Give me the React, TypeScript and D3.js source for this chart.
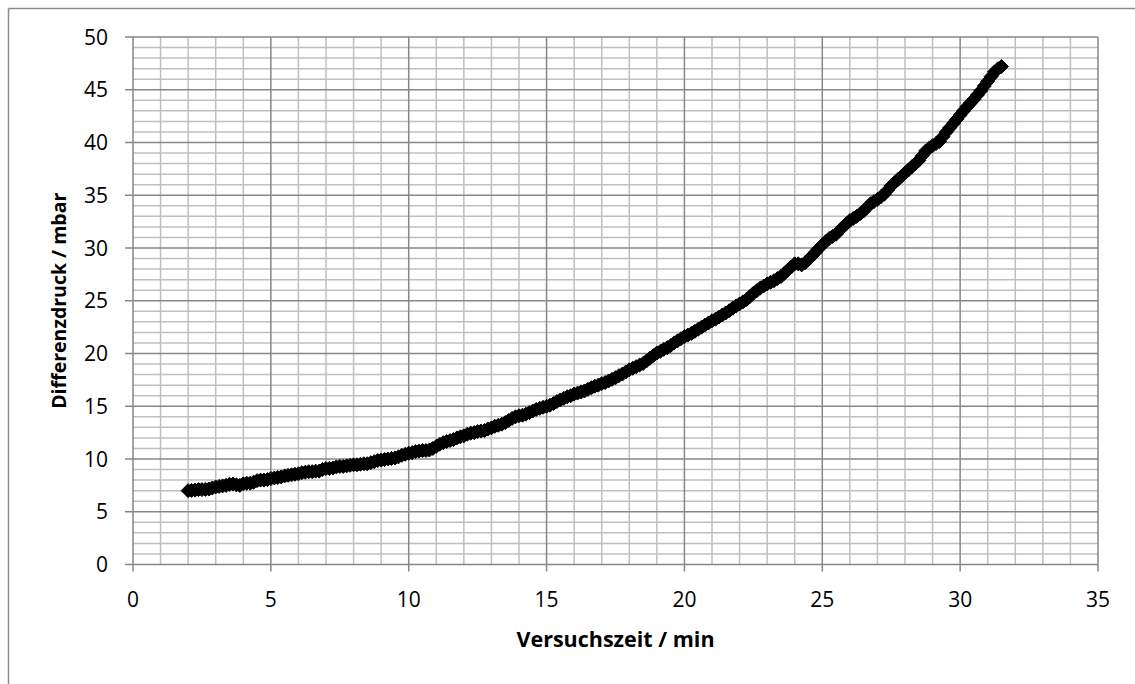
import React from "react";
import * as d3 from "d3";

const timeMin: number[] = [
  2.0, 2.125, 2.25, 2.375, 2.5, 2.625, 2.75, 2.875,
  3.0, 3.125, 3.25, 3.375, 3.5, 3.625, 3.75, 3.875,
  4.0, 4.125, 4.25, 4.375, 4.5, 4.625, 4.75, 4.875,
  5.0, 5.125, 5.25, 5.375, 5.5, 5.625, 5.75, 5.875,
  6.0, 6.125, 6.25, 6.375, 6.5, 6.625, 6.75, 6.875,
  7.0, 7.125, 7.25, 7.375, 7.5, 7.625, 7.75, 7.875,
  8.0, 8.125, 8.25, 8.375, 8.5, 8.625, 8.75, 8.875,
  9.0, 9.125, 9.25, 9.375, 9.5, 9.625, 9.75, 9.875,
  10.0, 10.125, 10.25, 10.375, 10.5, 10.625, 10.75, 10.875,
  11.0, 11.125, 11.25, 11.375, 11.5, 11.625, 11.75, 11.875,
  12.0, 12.125, 12.25, 12.375, 12.5, 12.625, 12.75, 12.875,
  13.0, 13.125, 13.25, 13.375, 13.5, 13.625, 13.75, 13.875,
  14.0, 14.125, 14.25, 14.375, 14.5, 14.625, 14.75, 14.875,
  15.0, 15.125, 15.25, 15.375, 15.5, 15.625, 15.75, 15.875,
  16.0, 16.125, 16.25, 16.375, 16.5, 16.625, 16.75, 16.875,
  17.0, 17.125, 17.25, 17.375, 17.5, 17.625, 17.75, 17.875,
  18.0, 18.125, 18.25, 18.375, 18.5, 18.625, 18.75, 18.875,
  19.0, 19.125, 19.25, 19.375, 19.5, 19.625, 19.75, 19.875,
  20.0, 20.125, 20.25, 20.375, 20.5, 20.625, 20.75, 20.875,
  21.0, 21.125, 21.25, 21.375, 21.5, 21.625, 21.75, 21.875,
  22.0, 22.125, 22.25, 22.375, 22.5, 22.625, 22.75, 22.875,
  23.0, 23.125, 23.25, 23.375, 23.5, 23.625, 23.75, 23.875,
  24.0, 24.125, 24.25, 24.375, 24.5, 24.625, 24.75, 24.875,
  25.0, 25.125, 25.25, 25.375, 25.5, 25.625, 25.75, 25.875,
  26.0, 26.125, 26.25, 26.375, 26.5, 26.625, 26.75, 26.875,
  27.0, 27.125, 27.25, 27.375, 27.5, 27.625, 27.75, 27.875,
  28.0, 28.125, 28.25, 28.375, 28.5, 28.625, 28.75, 28.875,
  29.0, 29.125, 29.25, 29.375, 29.5, 29.625, 29.75, 29.875,
  30.0, 30.125, 30.25, 30.375, 30.5, 30.625, 30.75, 30.875,
  31.0, 31.125, 31.25, 31.375, 31.5,
];

const pressureMbar: number[] = [
  7.0, 7.02, 7.05, 7.1, 7.1, 7.12, 7.15, 7.25,
  7.35, 7.4, 7.45, 7.5, 7.6, 7.62, 7.55, 7.5,
  7.65, 7.7, 7.7, 7.8, 7.95, 8.0, 8.0, 8.05,
  8.15, 8.2, 8.25, 8.3, 8.4, 8.45, 8.5, 8.55,
  8.6, 8.7, 8.75, 8.8, 8.8, 8.85, 8.85, 9.0,
  9.1, 9.1, 9.15, 9.25, 9.3, 9.3, 9.35, 9.4,
  9.45, 9.45, 9.5, 9.55, 9.55, 9.65, 9.75, 9.85,
  9.9, 9.95, 10.0, 10.05, 10.1, 10.2, 10.35, 10.45,
  10.55, 10.6, 10.7, 10.75, 10.8, 10.8, 10.85, 11.0,
  11.2, 11.4, 11.55, 11.65, 11.75, 11.85, 12.0, 12.1,
  12.2, 12.35, 12.45, 12.5, 12.6, 12.65, 12.7, 12.85,
  12.95, 13.1, 13.2, 13.3, 13.45, 13.65, 13.85, 14.0,
  14.1, 14.15, 14.25, 14.4, 14.55, 14.7, 14.8, 14.9,
  15.0, 15.1, 15.25, 15.45, 15.6, 15.75, 15.9, 16.0,
  16.15, 16.25, 16.35, 16.45, 16.6, 16.75, 16.9, 17.0,
  17.15, 17.25, 17.4, 17.55, 17.7, 17.9, 18.05, 18.25,
  18.45, 18.6, 18.75, 18.9, 19.05, 19.3, 19.55, 19.8,
  20.05, 20.2, 20.4, 20.55, 20.75, 21.0, 21.2, 21.4,
  21.6, 21.75, 21.9, 22.1, 22.3, 22.5, 22.7, 22.9,
  23.1, 23.25, 23.45, 23.65, 23.85, 24.05, 24.3, 24.5,
  24.7, 24.9, 25.1, 25.4, 25.7, 25.95, 26.2, 26.4,
  26.6, 26.75, 26.9, 27.1, 27.3, 27.6, 27.9, 28.2,
  28.5, 28.5, 28.4, 28.6, 28.9, 29.25, 29.6, 29.95,
  30.3, 30.6, 30.9, 31.1, 31.3, 31.65, 32.0, 32.3,
  32.6, 32.8, 33.0, 33.25, 33.5, 33.85, 34.2, 34.4,
  34.6, 34.85, 35.1, 35.5, 35.9, 36.2, 36.5, 36.8,
  37.1, 37.4, 37.7, 38.0, 38.3, 38.75, 39.2, 39.45,
  39.7, 39.9, 40.1, 40.55, 41.0, 41.4, 41.8, 42.2,
  42.6, 43.0, 43.4, 43.75, 44.1, 44.5, 44.9, 45.35,
  45.8, 46.25, 46.7, 47.0, 47.2,
];

const xTicks: number[] = [0, 5, 10, 15, 20, 25, 30, 35];
const yTicks: number[] = [0, 5, 10, 15, 20, 25, 30, 35, 40, 45, 50];
const xMinor: number[] = d3.range(0, 36, 1);
const yMinor: number[] = d3.range(0, 51, 1);

const xTitle = "Versuchszeit / min";
const yTitle = "Differenzdruck / mbar";

export default function App() {
  const left = 133;
  const right = 1098;
  const top = 37;
  const bottom = 564.5;
  const x = d3.scaleLinear().domain([0, 35]).range([left, right]);
  const y = d3.scaleLinear().domain([0, 50]).range([bottom, top]);

  const diamond = d3.symbol().type(d3.symbolDiamond2).size(125)();

  const minorColor = "#bfbfbf";
  const majorColor = "#878787";
  const font = "'Open Sans', 'Noto Sans', sans-serif";

  return (
    <div style={{ position: "fixed", left: 0, top: 0, width: 1135, height: 684, overflow: "hidden", background: "#fff" }}>
      <svg width={1135} height={684} style={{ display: "block" }}>
        <rect x={0} y={0} width={1135} height={684} fill="#ffffff" />
        <line x1={8.5} y1={8.5} x2={1135} y2={8.5} stroke="#8c8c8c" strokeWidth={1.5} />
        <line x1={8.5} y1={8.5} x2={8.5} y2={684} stroke="#8c8c8c" strokeWidth={1.5} />

        {/* minor grid */}
        {xMinor.filter((v) => v % 5 !== 0).map((v) => (
          <line key={"xm" + v} x1={x(v)} x2={x(v)} y1={top} y2={bottom} stroke={minorColor} strokeWidth={1.5} />
        ))}
        {yMinor.filter((v) => v % 5 !== 0).map((v) => (
          <line key={"ym" + v} x1={left} x2={right} y1={y(v)} y2={y(v)} stroke={minorColor} strokeWidth={1.5} />
        ))}
        {/* major grid */}
        {xTicks.map((v) => (
          <line key={"xM" + v} x1={x(v)} x2={x(v)} y1={top} y2={bottom} stroke={majorColor} strokeWidth={1.5} />
        ))}
        {yTicks.map((v) => (
          <line key={"yM" + v} x1={left} x2={right} y1={y(v)} y2={y(v)} stroke={majorColor} strokeWidth={1.5} />
        ))}
        {/* ticks */}
        {xTicks.map((v) => (
          <line key={"xt" + v} x1={x(v)} x2={x(v)} y1={bottom} y2={bottom + 7} stroke={majorColor} strokeWidth={1.5} />
        ))}
        {yTicks.map((v) => (
          <line key={"yt" + v} x1={left - 8} x2={left} y1={y(v)} y2={y(v)} stroke={majorColor} strokeWidth={1.5} />
        ))}

        {/* tick labels */}
        {xTicks.map((v) => (
          <text key={"xl" + v} x={x(v)} y={607} textAnchor="middle" fontFamily={font} fontSize={21} fill="#000">
            {v}
          </text>
        ))}
        {yTicks.map((v) => (
          <text key={"yl" + v} x={108} y={y(v) + 7.5} textAnchor="end" fontFamily={font} fontSize={21} fill="#000">
            {v}
          </text>
        ))}

        {/* titles */}
        <text x={(left + right) / 2} y={647} textAnchor="middle" fontFamily={font} fontWeight="bold" fontSize={21.5} fill="#000">
          {xTitle}
        </text>
        <text
          transform={`translate(66,${(top + bottom) / 2}) rotate(-90)`}
          textAnchor="middle"
          fontFamily={font}
          fontWeight="bold"
          fontSize={19.5}
          fill="#000"
        >
          {yTitle}
        </text>

        {/* data markers */}
        {timeMin.map((t, i) => (
          <path key={"p" + i} d={diamond as string} transform={`translate(${x(t)},${y(pressureMbar[i])})`} fill="#000" stroke="#000" strokeWidth={1} />
        ))}
      </svg>
    </div>
  );
}
